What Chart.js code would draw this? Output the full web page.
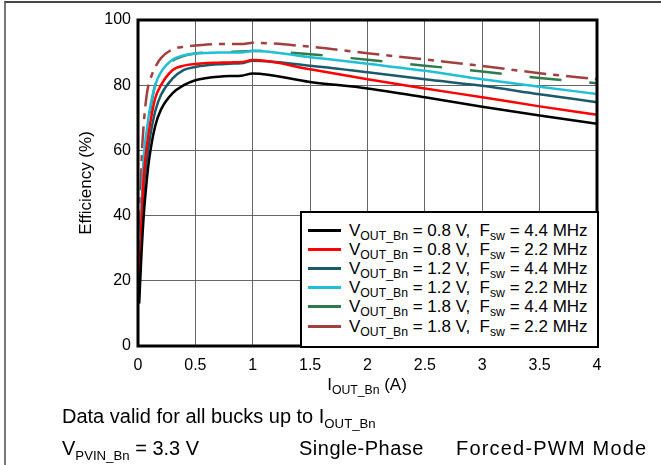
<!DOCTYPE html>
<html>
<head>
<meta charset="utf-8">
<script src="https://cdn.jsdelivr.net/npm/chart.js@4/dist/chart.umd.min.js"></script>
<style>
  body { margin: 0; background: #fff; font-family: "Liberation Sans", Arial, sans-serif; color: #000; }
  #wrap { position: relative; width: 661px; height: 465px; overflow: hidden; }
  #c { position: absolute; left: 0; top: 0; }
  .frame { position: absolute; left: 4px; top: 1px; width: 700px; height: 500px; border-top: 2px solid #444; border-left: 2px solid #777; }
  sub { font-size: 0.72em; vertical-align: -0.35em; line-height: 0; }
  #legend { position: absolute; left: 300px; top: 211px; width: 295px; height: 133px; background: #fff; border: 2px solid #000; }
  .row { position: absolute; left: 6px; height: 19px; line-height: 19px; font-size: 17px; white-space: pre; }
  .row .swatch { display: inline-block; width: 33px; height: 0; border-top: 3px solid #000; vertical-align: middle; margin-right: 8px; position: relative; top: -1px; }
  .txt { position: absolute; white-space: pre; line-height: 1; }
</style>
</head>
<body>
<div id="wrap">
  <canvas id="c" width="661" height="465"></canvas>
  <div class="frame"></div>
  <div id="legend"></div>
  <div class="txt" style="left:367px; top:384px; font-size:17px; transform: translate(-50%, -50%);">I<sub>OUT_Bn</sub> (A)</div>
  <div class="txt" style="left:62px; top:406px; font-size:20px;">Data valid for all bucks up to I<sub style="font-size:0.66em">OUT_Bn</sub></div>
  <div class="txt" style="left:62px; top:438px; font-size:20px;">V<sub style="font-size:0.66em">PVIN_Bn</sub> = 3.3 V</div>
  <div class="txt" style="left:299px; top:438px; font-size:20px; letter-spacing:0.5px;">Single-Phase</div>
  <div class="txt" style="left:456px; top:438px; font-size:20px; letter-spacing:1.2px;">Forced-PWM Mode</div>
</div>
<script>
// output current (A)
const iout = [0.01, 0.03, 0.05, 0.08, 0.1, 0.15, 0.2, 0.3, 0.4, 0.5, 0.6, 0.7, 0.8, 0.9, 1.0, 1.5, 2, 2.5, 3, 3.5, 4];

// efficiency (%) per configuration
const eff08v44 = [13, 28, 40, 52, 58, 67.5, 72.5, 77.5, 80, 81.5, 82.2, 82.6, 82.8, 82.9, 83.6, 81, 79, 76.3, 73.4, 70.7, 68.2];
const eff08v22 = [17, 38, 52, 62, 67, 76, 80, 84.6, 86, 86.5, 86.8, 86.9, 87, 87.1, 87.7, 84.9, 81.8, 79, 76.3, 73.5, 70.9];
const eff12v44 = [15, 34, 48, 58, 63, 72, 77, 82, 84.7, 85.6, 86.1, 86.4, 86.6, 86.7, 87.5, 86, 84, 81.8, 79.8, 77.2, 74.8];
const eff12v22 = [18, 42, 58, 67, 72, 80, 84, 87.8, 89.2, 89.7, 89.9, 90, 90, 90, 90.6, 88.6, 86.6, 84.4, 81.8, 79.5, 77.3];
const eff18v44 = [16, 40, 55, 66, 71, 80, 84, 87.5, 89, 89.7, 90, 90.1, 90.2, 90.3, 90.5, 89.5, 87.8, 86, 84.2, 82.2, 80.6];
const eff18v22 = [22, 55, 68, 78, 81, 85.5, 88.3, 91, 91.8, 92.2, 92.5, 92.6, 92.6, 92.6, 93, 91.8, 89.8, 87.9, 85.9, 83.7, 81.8];

const vout = ['0.8', '0.8', '1.2', '1.2', '1.8', '1.8'];
const fsw = ['4.4', '2.2', '4.4', '2.2', '4.4', '2.2'];
const series = [eff08v44, eff08v22, eff12v44, eff12v22, eff18v44, eff18v22];

const colors = ['#000000', '#ff0000', '#1b5a6b', '#20bfd6', '#2f7a4c', '#a2403f'];
const dashes = [[], [], [], [], [32, 28], [22, 7, 6, 7]];

const xTicks = [0, 0.5, 1, 1.5, 2, 2.5, 3, 3.5, 4];
const yTicks = [0, 20, 40, 60, 80, 100];

const datasets = series.map((s, k) => ({
  label: 'VOUT_Bn = ' + vout[k] + ' V, Fsw = ' + fsw[k] + ' MHz',
  data: iout.map((x, i) => ({ x: x, y: s[i] })),
  borderColor: colors[k],
  borderWidth: 2.5,
  borderDash: dashes[k],
  pointRadius: 0,
  cubicInterpolationMode: 'monotone',
  fill: false,
}));

// legend rows with subscripts
const legend = document.getElementById('legend');
series.forEach((s, k) => {
  const row = document.createElement('div');
  row.className = 'row';
  row.style.top = (8 + k * 19.1) + 'px';
  row.innerHTML = '<span class="swatch" style="border-top-color:' + colors[k] + '"></span>' +
    'V<sub>OUT_Bn</sub> = ' + vout[k] + ' V,  F<sub>sw</sub> = ' + fsw[k] + ' MHz';
  legend.appendChild(row);
});

const frame = {
  id: 'frame',
  afterDatasetsDraw(chart) {
    const a = chart.chartArea;
    const ctx = chart.ctx;
    ctx.save();
    ctx.strokeStyle = '#000';
    ctx.lineWidth = 3;
    ctx.strokeRect(a.left, a.top, a.right - a.left, a.bottom - a.top);
    ctx.restore();
  },
};

const fam = '"Liberation Sans", Arial, sans-serif';
const tickFont = { family: fam, size: 16 };

new Chart(document.getElementById('c'), {
  type: 'line',
  data: { datasets: datasets },
  plugins: [frame],
  options: {
    responsive: false,
    animation: false,
    layout: { padding: { top: 20, right: 64, left: 0, bottom: 0 } },
    plugins: { legend: { display: false }, tooltip: { enabled: false } },
    scales: {
      x: {
        type: 'linear',
        min: 0,
        max: 4,
        afterFit: (s) => { s.height = 119; },
        afterBuildTicks: (s) => { s.ticks = xTicks.map((v) => ({ value: v })); },
        ticks: { color: '#000', font: tickFont, padding: 10, maxRotation: 0, callback: (v) => String(v) },
        grid: { color: '#666', lineWidth: 1, drawTicks: false },
        border: { display: false },
      },
      y: {
        min: 0,
        max: 100,
        afterFit: (s) => { s.width = 138; },
        afterBuildTicks: (s) => { s.ticks = yTicks.map((v) => ({ value: v })); },
        ticks: { color: '#000', font: tickFont, padding: 7 },
        grid: { color: '#666', lineWidth: 1, drawTicks: false },
        border: { display: false },
        title: {
          display: true,
          text: 'Efficiency (%)',
          color: '#000',
          font: { family: fam, size: 17 },
          padding: { top: 76, bottom: 0 },
        },
      },
    },
  },
});
</script>
</body>
</html>
